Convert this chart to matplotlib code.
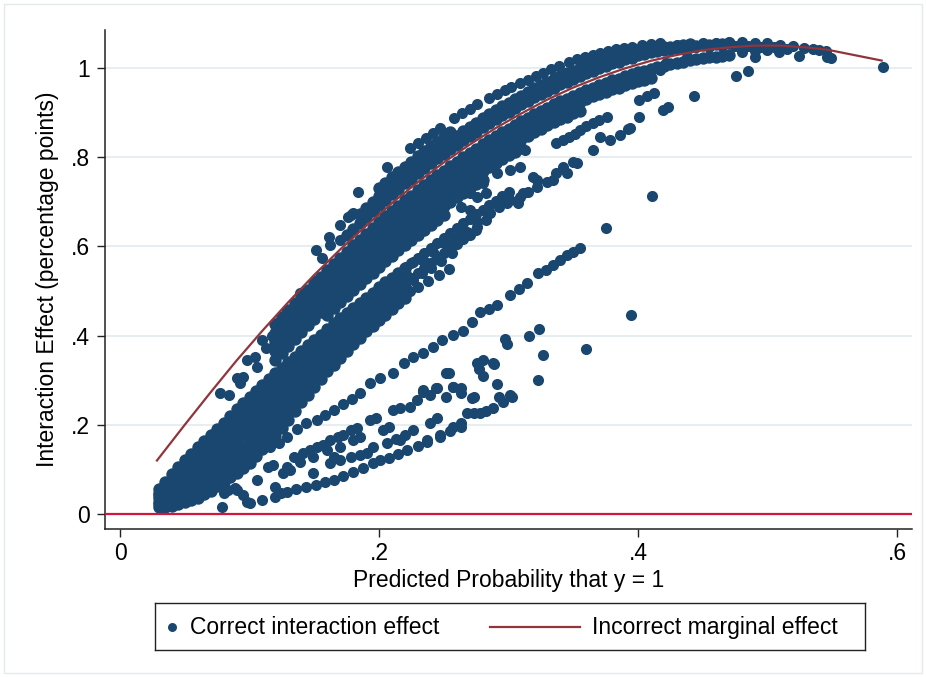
import matplotlib
matplotlib.use("Agg")
import matplotlib.pyplot as plt
from matplotlib.patches import Rectangle
from matplotlib.ticker import FixedLocator, FixedFormatter

plt.rcParams['font.family'] = ['Liberation Sans', 'DejaVu Sans']

NAVY = '#1a476f'
MAROON = '#90353b'
ZERO_RED = '#d4163f'
GRID = '#e6eef1'
FS = 16.5

# ---------------- data ----------------
# incorrect marginal effect (line)
LINE_X = [0.028, 0.05, 0.07, 0.09, 0.11, 0.13, 0.15, 0.17, 0.19, 0.21, 0.23, 0.25, 0.27, 0.29,
          0.31, 0.33, 0.35, 0.37, 0.39, 0.41, 0.43, 0.45, 0.47, 0.49, 0.51, 0.53, 0.546, 0.589]
LINE_Y = [0.118, 0.200, 0.273, 0.344, 0.411, 0.475, 0.536, 0.593, 0.646, 0.697, 0.744, 0.788, 0.828, 0.865,
          0.898, 0.929, 0.956, 0.979, 0.999, 1.016, 1.029, 1.040, 1.046, 1.050, 1.050, 1.046, 1.041, 1.016]

# x grid of the dense point rows
XG = [0.030, 0.035, 0.040, 0.045, 0.050, 0.055, 0.060, 0.065, 0.070, 0.075, 0.080, 0.085, 0.090, 0.095,
      0.100, 0.105, 0.110, 0.115, 0.120, 0.125, 0.130, 0.135, 0.140, 0.145, 0.150, 0.155, 0.160, 0.165,
      0.170, 0.175, 0.180, 0.185, 0.190, 0.195, 0.200, 0.205, 0.210, 0.215, 0.220, 0.225, 0.230, 0.235,
      0.240, 0.245, 0.250, 0.255, 0.260, 0.265, 0.270, 0.275, 0.280, 0.285, 0.290, 0.295, 0.300, 0.305,
      0.310, 0.315, 0.320, 0.325, 0.330, 0.335, 0.340, 0.345, 0.350, 0.355, 0.360, 0.365, 0.370, 0.375,
      0.380, 0.385, 0.390, 0.395, 0.400, 0.405, 0.410, 0.415, 0.420, 0.425, 0.430, 0.435, 0.440, 0.445,
      0.450, 0.455, 0.460, 0.465, 0.470]

# low dense band, rows starting at x = 0.03 (two sparser tail rows at the end)
M2_ROWS = [
    (0.030, [.015, .016, .017, .022, .027, .032, .037, .044, .052, .062, .072, .082, .092, .103, .115, .130, .145, .160, .175, .192,
             .210, .230, .250, .267, .285, .302, .320, .335, .350, .365, .380, .395, .410, .422, .435, .447, .460, .472, .485]),
    (0.030, [.022, .025, .029, .036, .043, .049, .056, .064, .073, .083, .094, .105, .116, .127, .140, .154, .169, .184, .198, .215,
             .232, .250, .269, .286, .303, .319, .336, .351, .365, .379, .394, .408, .423, .434, .447, .459, .472, .484, .496]),
    (0.030, [.028, .035, .041, .050, .058, .066, .075, .084, .094, .105, .116, .128, .140, .151, .164, .179, .193, .207, .222, .237,
             .253, .271, .288, .304, .320, .335, .352, .366, .380, .394, .407, .421, .435, .447, .459, .471, .483, .495, .507]),
    (0.030, [.035, .044, .054, .064, .074, .084, .094, .104, .115, .126, .138, .151, .164, .176, .189, .203, .218, .231, .245, .260,
             .275, .291, .308, .323, .338, .352, .368, .382, .395, .408, .421, .434, .448, .459, .472, .483, .495, .507, .519]),
    (0.030, [.042, .053, .066, .077, .089, .101, .112, .123, .135, .147, .160, .174, .187, .200, .213, .227, .242, .255, .268, .283,
             .297, .311, .327, .341, .355, .369, .383, .397, .410, .422, .435, .447, .460, .471, .484, .495, .507, .518, .530]),
    (0.030, [.048, .063, .078, .091, .105, .118, .131, .143, .156, .169, .182, .197, .211, .224, .238, .252, .266, .278, .292, .305,
             .318, .332, .346, .360, .373, .385, .399, .413, .425, .437, .448, .460, .473, .484, .496, .507, .518, .530, .541]),
    (0.030, [.055, .072, .090, .105, .120, .135, .150, .163, .177, .190, .204, .220, .235, .248, .262, .276, .290, .302, .315, .328,
             .340, .352, .365, .378, .390, .402, .415, .428, .440, .451, .462, .473, .485, .496, .508, .519, .530, .541, .552]),
]
M2_TAIL = [
    (0.225, [.563, .574, .585, .597, .608, .619, .630, .641, .652, .662, .672, .682, .692, .702, .712, .722]),
    (0.225, [.530, .541, .552, .563, .574, .585, .596, .606, .616, .626, .636]),
]

# dense band just below the line
M1_ROWS = [
    (0.120, [.426, .441, .457, .472, .488, .503, .518, .532, .547, .561, .575, .588, .602, .615, .628, .641, .654, .667, .679, .691,
             .703, .714, .726, .737, .748, .759, .770, .780, .790, .800, .810, .819, .829, .838, .847, .856, .864, .872, .880, .888,
             .896, .903, .911, .918, .925, .931, .938, .944, .950, .956, .961, .966, .972, .976, .981, .986, .990, .994, .998, 1.002,
             1.005, 1.008, 1.011, 1.014, 1.017, 1.019, 1.022, 1.024, 1.025, 1.027, 1.028]),
    (0.120, [.406, .421, .437, .452, .468, .483, .498, .512, .527, .541, .555, .568, .582, .595, .608, .621, .634, .647, .659, .671,
             .683, .694, .706, .717, .728, .739, .750, .760, .770, .780, .790, .799, .809, .818, .827, .836, .844, .852, .860, .868,
             .876, .883, .891, .898, .905, .911, .918, .924, .930, .936, .941, .946, .952, .956, .961, .966, .970, .974, .978]),
    (0.120, [.386, .401, .417, .432, .448, .463, .478, .492, .507, .521, .535, .548, .562, .575, .588, .601, .614, .627, .639, .651,
             .663, .674, .686, .697, .708, .719, .730, .740, .750, .760, .770, .779, .789, .798, .807, .816, .824, .832, .840, .848,
             .856, .863, .871, .878, .885, .891, .898, .904]),
    (0.120, [.366, .381, .397, .412, .428, .443, .458, .472, .487, .501, .515, .528, .542, .555, .568, .581, .594, .607, .619, .631,
             .643, .654, .666, .677, .688, .699, .710, .720, .730, .740, .750, .759, .769, .778, .787, .796, .804, .812, .820]),
    (0.120, [.346, .361, .377, .392, .408, .423, .438, .452, .467, .481, .495, .508, .522, .535, .548, .561, .574, .587, .599, .611,
             .623, .634, .646, .657, .668, .679, .690, .700, .710, .720, .730, .739, .749]),
    (0.160, [.447, .461, .475, .488, .502, .515, .528, .541, .554, .567, .579, .591, .603, .614, .626, .637, .648, .659, .670]),
]

# dense band above the line
U_ROWS = [
    (0.175, [.626, .640, .653, .666, .679, .692, .705, .717, .729, .741, .752, .764, .775, .786, .797, .808, .818, .828, .838, .848,
             .857, .867, .876, .885, .894, .902, .910, .918, .926, .934, .941, .949, .956, .963, .969, .976, .982, .988, .994, .999,
             1.004, 1.010, 1.014, 1.019, 1.023, 1.028, 1.032, 1.036, 1.038, 1.041, 1.043, 1.045, 1.047, 1.048, 1.050, 1.051, 1.052,
             1.053, 1.054, 1.055]),
    (0.185, [.673, .686, .699, .712, .725, .737, .749, .761, .772, .784, .795, .806, .817, .828, .838, .848, .858, .868, .877, .887,
             .896, .905, .914, .922, .930, .938, .946, .954, .961, .969, .976, .983, .988, .993, .999, 1.004, 1.009, 1.013, 1.017,
             1.021, 1.025, 1.028, 1.031, 1.034, 1.037, 1.040, 1.043, 1.046, 1.048, 1.050, 1.052, 1.054]),
    (0.200, [.730, .743, .755, .767, .779, .790, .802, .813, .824, .835, .846, .856]),
]

# top row of short dashes above the upper band
DASH_PTS = [(0.224, 0.820), (0.230, 0.832), (0.236, 0.844), (0.242, 0.855), (0.247, 0.865),
            (0.258, 0.887), (0.264, 0.898), (0.270, 0.909), (0.276, 0.920),
            (0.285, 0.932), (0.291, 0.941), (0.297, 0.950), (0.302, 0.957),
            (0.309, 0.966), (0.315, 0.974), (0.321, 0.982), (0.327, 0.989), (0.333, 0.997), (0.339, 1.004),
            (0.347, 1.013), (0.353, 1.019), (0.359, 1.025), (0.365, 1.029), (0.371, 1.034), (0.377, 1.038),
            (0.383, 1.042), (0.389, 1.045), (0.395, 1.047), (0.403, 1.051), (0.410, 1.054), (0.417, 1.056)]

# scattered points above / near the line at low x
U_SPARSE = [(0.151, 0.592), (0.156, 0.574), (0.161, 0.621), (0.162, 0.603), (0.170, 0.648), (0.170, 0.614),
            (0.176, 0.666), (0.180, 0.675), (0.188, 0.664), (0.184, 0.722), (0.197, 0.686), (0.206, 0.778),
            (0.178, 0.670)]
M1_SPARSE = [(0.077, 0.271), (0.084, 0.267), (0.090, 0.305), (0.093, 0.294), (0.095, 0.307), (0.098, 0.345),
             (0.106, 0.330), (0.104, 0.352), (0.110, 0.390), (0.113, 0.372), (0.117, 0.398), (0.123, 0.430),
             (0.129, 0.457), (0.139, 0.495), (0.152, 0.525)]

# top of the cloud at large x
TOP_PTS = [(0.420, 1.048), (0.425, 1.040), (0.430, 1.052), (0.435, 1.044), (0.440, 1.054), (0.445, 1.046),
           (0.450, 1.056), (0.455, 1.048), (0.460, 1.056), (0.465, 1.050), (0.470, 1.057), (0.475, 1.049),
           (0.480, 1.057), (0.485, 1.050), (0.490, 1.056), (0.495, 1.048), (0.500, 1.055), (0.505, 1.046),
           (0.510, 1.052), (0.515, 1.042), (0.520, 1.050), (0.528, 1.045), (0.535, 1.042), (0.540, 1.040),
           (0.545, 1.038), (0.480, 1.036), (0.490, 1.038), (0.500, 1.040), (0.509, 1.036), (0.524, 1.027),
           (0.546, 1.025), (0.549, 1.022), (0.589, 1.002)]

# sparse continuation of the low band at larger x
M2_SPARSE = [(0.221, 0.554), (0.226, 0.565), (0.232, 0.572), (0.237, 0.563), (0.242, 0.588), (0.247, 0.576),
             (0.250, 0.607), (0.257, 0.607), (0.260, 0.620), (0.265, 0.637), (0.268, 0.632), (0.276, 0.643),
             (0.276, 0.655), (0.283, 0.659), (0.286, 0.675), (0.293, 0.688), (0.299, 0.697), (0.301, 0.704),
             (0.309, 0.711), (0.315, 0.722), (0.322, 0.733), (0.334, 0.749), (0.345, 0.765), (0.353, 0.787),
             (0.263, 0.688), (0.270, 0.682), (0.283, 0.682), (0.293, 0.700), (0.307, 0.697), (0.311, 0.720),
             (0.270, 0.720), (0.276, 0.711), (0.280, 0.742), (0.283, 0.720), (0.291, 0.764), (0.301, 0.771),
             (0.309, 0.778), (0.313, 0.816), (0.319, 0.756), (0.322, 0.749), (0.330, 0.744), (0.337, 0.765),
             (0.342, 0.778), (0.350, 0.789), (0.365, 0.816), (0.371, 0.845),
             (0.337, 0.832), (0.342, 0.838), (0.347, 0.845), (0.351, 0.852), (0.355, 0.861), (0.360, 0.869),
             (0.365, 0.877), (0.370, 0.884), (0.376, 0.890), (0.378, 0.839), (0.386, 0.850), (0.394, 0.865),
             (0.392, 0.863), (0.401, 0.890), (0.401, 0.928), (0.407, 0.936), (0.412, 0.944), (0.419, 0.906),
             (0.423, 0.912), (0.391, 0.978), (0.401, 0.973), (0.409, 0.984), (0.417, 0.996), (0.422, 1.011),
             (0.443, 0.937), (0.438, 1.025), (0.476, 0.981), (0.485, 0.992), (0.490, 1.025),
             (0.226, 0.525), (0.233, 0.540), (0.240, 0.552), (0.248, 0.568), (0.256, 0.585),
             (0.224, 0.500), (0.230, 0.510), (0.238, 0.522), (0.246, 0.536), (0.254, 0.550)]

# lower fans of points
S1_PTS = [(0.106, 0.143), (0.116, 0.150), (0.123, 0.160), (0.129, 0.173), (0.137, 0.190), (0.144, 0.205),
          (0.152, 0.211), (0.158, 0.222), (0.165, 0.233), (0.172, 0.246), (0.179, 0.258), (0.185, 0.271),
          (0.193, 0.294), (0.201, 0.305), (0.211, 0.316), (0.219, 0.339), (0.226, 0.352), (0.234, 0.361),
          (0.242, 0.374), (0.249, 0.390), (0.257, 0.401), (0.265, 0.410), (0.272, 0.430), (0.278, 0.453),
          (0.285, 0.460), (0.291, 0.469), (0.301, 0.491), (0.308, 0.505), (0.314, 0.518), (0.323, 0.540),
          (0.329, 0.548), (0.334, 0.558), (0.340, 0.569), (0.345, 0.580), (0.350, 0.588), (0.355, 0.596)]
S3_PTS = [(0.114, 0.105), (0.118, 0.110), (0.126, 0.092), (0.129, 0.105), (0.131, 0.099), (0.134, 0.128),
          (0.139, 0.117), (0.141, 0.137), (0.147, 0.143), (0.149, 0.128), (0.149, 0.092), (0.152, 0.150),
          (0.157, 0.155), (0.160, 0.143), (0.162, 0.166), (0.168, 0.173), (0.170, 0.150), (0.172, 0.177),
          (0.178, 0.188), (0.180, 0.166), (0.183, 0.193), (0.185, 0.173), (0.193, 0.211), (0.198, 0.215),
          (0.203, 0.188), (0.208, 0.195), (0.211, 0.233), (0.216, 0.238), (0.224, 0.240), (0.229, 0.256),
          (0.234, 0.274), (0.239, 0.267), (0.245, 0.283), (0.252, 0.262), (0.257, 0.285), (0.263, 0.283),
          (0.263, 0.271), (0.273, 0.262), (0.273, 0.226), (0.276, 0.339)]
S4_PTS = [(0.162, 0.114), (0.170, 0.120), (0.178, 0.127), (0.185, 0.133), (0.191, 0.137), (0.195, 0.150),
          (0.206, 0.159), (0.213, 0.168), (0.220, 0.178), (0.226, 0.188), (0.237, 0.166), (0.247, 0.173),
          (0.239, 0.204), (0.245, 0.215), (0.257, 0.195), (0.263, 0.204), (0.268, 0.226), (0.165, 0.128),
          (0.216, 0.166)]
S5_PTS = [(0.124, 0.047), (0.129, 0.050), (0.136, 0.055), (0.144, 0.061), (0.151, 0.066), (0.158, 0.071),
          (0.165, 0.076), (0.172, 0.085), (0.180, 0.094), (0.188, 0.104), (0.195, 0.114), (0.201, 0.120),
          (0.208, 0.126), (0.215, 0.134), (0.222, 0.143), (0.230, 0.152), (0.237, 0.161), (0.247, 0.177),
          (0.255, 0.186), (0.263, 0.195), (0.278, 0.226), (0.283, 0.232), (0.288, 0.238), (0.296, 0.250),
          (0.303, 0.262)]
LOW_LEFT = [(0.079, 0.016), (0.080, 0.047), (0.089, 0.058), (0.095, 0.043), (0.098, 0.027), (0.100, 0.025),
            (0.106, 0.076), (0.110, 0.031), (0.120, 0.061), (0.120, 0.038), (0.083, 0.054), (0.090, 0.054)]
MID_RIGHT = [(0.4105, 0.714), (0.375, 0.642), (0.3946, 0.445), (0.360, 0.371), (0.327, 0.356), (0.3225, 0.300),
             (0.3237, 0.414), (0.316, 0.398), (0.297, 0.392), (0.299, 0.381), (0.291, 0.291), (0.280, 0.345),
             (0.277, 0.325), (0.280, 0.309), (0.289, 0.336), (0.254, 0.316), (0.244, 0.282), (0.257, 0.285),
             (0.234, 0.278), (0.272, 0.260), (0.293, 0.262), (0.301, 0.267), (0.252, 0.316), (0.288, 0.339)]

X_TICKS = [0, 0.2, 0.4, 0.6]
X_TICK_LABELS = ['0', '.2', '.4', '.6']
Y_TICKS = [0, 0.2, 0.4, 0.6, 0.8, 1.0]
Y_TICK_LABELS = ['0', '.2', '.4', '.6', '.8', '1']


# ---------------- collect points ----------------
def grid_row(x0, ys):
    i = min(range(len(XG)), key=lambda k: abs(XG[k] - x0))
    return list(zip(XG[i:i + len(ys)], ys))


dense = []
for x0, ys in M2_ROWS + M1_ROWS + U_ROWS:
    dense += grid_row(x0, ys)
sparse = []
for x0, ys in M2_TAIL:
    sparse += grid_row(x0, ys)
for group in (DASH_PTS, U_SPARSE, M1_SPARSE, TOP_PTS, M2_SPARSE, S1_PTS, S3_PTS, S4_PTS,
              S5_PTS, LOW_LEFT, MID_RIGHT):
    sparse += group

# ---------------- figure ----------------
W, H = 926, 677
fig = plt.figure(figsize=(W / 100, H / 100), dpi=100)
fig.patches.append(Rectangle((4 / W, 4 / H), (W - 8) / W, (H - 8) / H, transform=fig.transFigure,
                             fill=False, edgecolor='#e3eaee', lw=1))

ax = fig.add_axes([105 / W, (H - 529) / H, (912 - 105) / W, (529 - 30) / H])
ax.set_xlim(-0.0116, 0.6116)
ax.set_ylim(-0.0336, 1.085)

for yv in Y_TICKS[1:]:
    ax.axhline(yv, color=GRID, lw=1.4, zorder=0)

ax.scatter([p[0] for p in dense], [p[1] for p in dense], s=80, color=NAVY, linewidths=0, zorder=2)
ax.scatter([p[0] for p in sparse], [p[1] for p in sparse], s=64, color=NAVY, linewidths=0, zorder=2)
ax.plot(LINE_X, LINE_Y, color=MAROON, lw=1.6, zorder=3, solid_capstyle='butt')
ax.axhline(0, color=ZERO_RED, lw=1.6, zorder=3)

for s in ('top', 'right'):
    ax.spines[s].set_visible(False)
for s in ('left', 'bottom'):
    ax.spines[s].set_color('#222222')
    ax.spines[s].set_linewidth(1.1)

ax.xaxis.set_major_locator(FixedLocator(X_TICKS))
ax.xaxis.set_major_formatter(FixedFormatter(X_TICK_LABELS))
ax.yaxis.set_major_locator(FixedLocator(Y_TICKS))
ax.yaxis.set_major_formatter(FixedFormatter(Y_TICK_LABELS))
ax.tick_params(direction='out', length=6, width=1, color='#222222', labelsize=FS)
ax.tick_params(axis='x', pad=3)
ax.tick_params(axis='y', pad=5)
ax.set_xlabel('Predicted Probability that y = 1', fontsize=FS, labelpad=3)
ax.set_ylabel('Interaction Effect (percentage points)', fontsize=FS, labelpad=8)

# legend (boxed, below the plot)
lg = fig.add_axes([155 / W, (H - 650) / H, 710 / W, 47 / H])
lg.set_xlim(0, 1)
lg.set_ylim(0, 1)
lg.set_xticks([])
lg.set_yticks([])
for s in lg.spines.values():
    s.set_color('#222222')
    s.set_linewidth(1.0)
lg.scatter([0.024], [0.5], s=42, color=NAVY, linewidths=0)
lg.text(0.049, 0.47, 'Correct interaction effect', va='center', ha='left', fontsize=FS)
lg.plot([0.472, 0.599], [0.5, 0.5], color=MAROON, lw=1.6)
lg.text(0.615, 0.47, 'Incorrect marginal effect', va='center', ha='left', fontsize=FS)

fig.savefig('out.png', dpi=100, facecolor='white')
